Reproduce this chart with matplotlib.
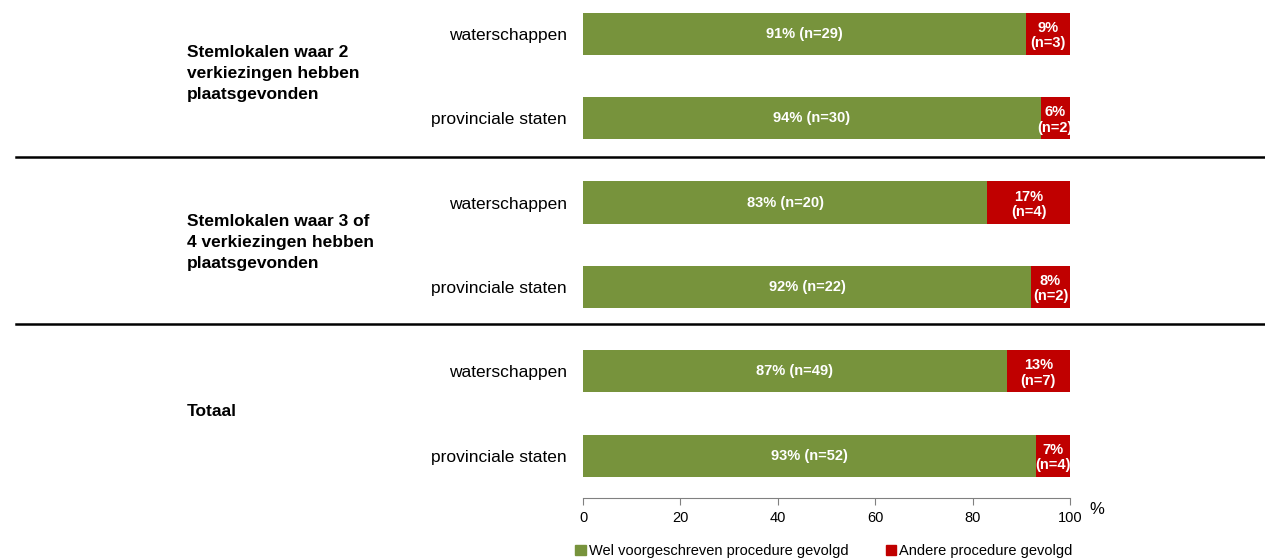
import matplotlib
matplotlib.use("Agg")
import matplotlib.pyplot as plt
from matplotlib.lines import Line2D
from matplotlib.patches import Patch
import matplotlib.transforms as mtransforms

plt.rcParams['font.family'] = ['Liberation Sans', 'DejaVu Sans']

categories = ["waterschappen", "provinciale staten",
              "waterschappen", "provinciale staten",
              "waterschappen", "provinciale staten"]
group_labels = ["Stemlokalen waar 2\nverkiezingen hebben\nplaatsgevonden",
                "Stemlokalen waar 3 of\n4 verkiezingen hebben\nplaatsgevonden",
                "Totaal"]
wel_pct = [91, 94, 83, 92, 87, 93]
andere_pct = [9, 6, 17, 8, 13, 7]
wel_n = [29, 30, 20, 22, 49, 52]
andere_n = [3, 2, 4, 2, 7, 4]
xticks = [0, 20, 40, 60, 80, 100]
legend_labels = ["Wel voorgeschreven procedure gevolgd", "Andere procedure gevolgd"]

GREEN = "#77933C"
RED = "#C00000"

W, H = 1265, 558
fig = plt.figure(figsize=(W / 100, H / 100), dpi=100)
ax = fig.add_axes([583 / W, 1 - 498 / H, (1070 - 583) / W, 498 / H])

y = list(range(len(categories)))
ax.barh(y, wel_pct, height=0.5, color=GREEN)
ax.barh(y, andere_pct, left=wel_pct, height=0.5, color=RED)

for i in y:
    ax.text(wel_pct[i] / 2, i, f"{wel_pct[i]}% (n={wel_n[i]})", ha="center", va="center",
            color="white", fontsize=10.5, fontweight="bold")
    ax.text(wel_pct[i] + andere_pct[i] / 2, i + 0.02, f"{andere_pct[i]}%\n(n={andere_n[i]})",
            ha="center", va="center", color="white", fontsize=10.5, fontweight="bold",
            linespacing=1.12)

ax.set_xlim(0, 100)
ax.set_ylim(5.5, -0.40)
ax.set_yticks(y)
ax.set_yticklabels(categories, fontsize=12.5)
ax.tick_params(axis="y", length=0, pad=11.5)
ax.set_xticks(xticks)
ax.set_xticklabels([str(t) for t in xticks], fontsize=10.5)
ax.tick_params(axis="x", direction="out", length=5, color="#808080", pad=4)
for s in ["top", "right", "left"]:
    ax.spines[s].set_visible(False)
ax.spines["bottom"].set_color("#808080")

fig.text(1089 / W, 1 - 510 / H, "%", fontsize=12, ha="left", va="center")

# group labels
blend = mtransforms.blended_transform_factory(fig.transFigure, ax.transData)
for g, lab in enumerate(group_labels):
    yc = 2 * g + 0.47
    ax.text(187 / W, yc, lab, transform=blend, ha="left", va="center",
            fontsize=12.5, fontweight="bold", linespacing=1.5)

# separator lines
for ys in [1.455, 3.435]:
    ax.add_line(Line2D([16 / W, 1264 / W], [ys, ys], transform=blend, color="black",
                       lw=1.8, clip_on=False))

handles = [Patch(color=GREEN), Patch(color=RED)]
fig.legend(handles, legend_labels, loc="center", bbox_to_anchor=(824 / W, 1 - 551 / H),
           ncol=2, frameon=False, fontsize=10.5, handlelength=0.7, handleheight=0.7,
           handletextpad=0.2, columnspacing=2.6)

fig.savefig("out.png", dpi=100)
